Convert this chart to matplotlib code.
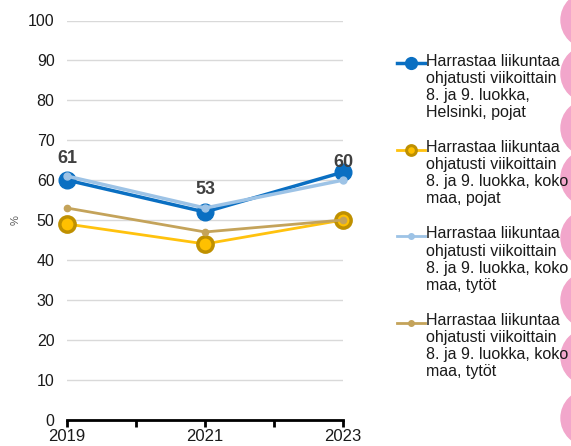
import matplotlib
matplotlib.use("Agg")
import matplotlib.pyplot as plt
from matplotlib.lines import Line2D
from matplotlib.patches import Circle

plt.rcParams['font.family'] = ['Liberation Sans', 'DejaVu Sans']

# --- Data ---
years = [2019, 2021, 2023]
helsinki_pojat = [60, 52, 62]
koko_maa_pojat = [49, 44, 50]
koko_maa_tytot = [61, 53, 60]
koko_maa_tytot_2 = [53, 47, 50]
data_labels = [61, 53, 60]

legend_labels = [
    "Harrastaa liikuntaa\nohjatusti viikoittain\n8. ja 9. luokka,\nHelsinki, pojat",
    "Harrastaa liikuntaa\nohjatusti viikoittain\n8. ja 9. luokka, koko\nmaa, pojat",
    "Harrastaa liikuntaa\nohjatusti viikoittain\n8. ja 9. luokka, koko\nmaa, tytöt",
    "Harrastaa liikuntaa\nohjatusti viikoittain\n8. ja 9. luokka, koko\nmaa, tytöt",
]

# --- Styles ---
W, H = 571, 446
styles = [
    dict(color="#0A6FC2", lw=2.5, marker="o", ms=12, mfc="#0A6FC2", mec="#0A6FC2", mew=1),
    dict(color="#FFC20E", lw=2.0, marker="o", ms=11, mfc="#FFC000", mec="#BF9000", mew=2.5),
    dict(color="#9DC3E6", lw=2.5, marker="o", ms=5, mfc="#9DC3E6", mec="#9DC3E6", mew=1),
    dict(color="#C4A35A", lw=2.0, marker="o", ms=4.5, mfc="#C4A35A", mec="#C4A35A", mew=1),
]
legend_ms = [8.5, 7, 4, 4]
legend_lw = [2.5, 2.0, 2.0, 2.0]

fig = plt.figure(figsize=(W / 100, H / 100), dpi=100)
ax = fig.add_axes([67 / W, 1 - 419.5 / H, (343 - 67) / W, 399 / H])

series = [helsinki_pojat, koko_maa_pojat, koko_maa_tytot, koko_maa_tytot_2]
for i, (vals, st) in enumerate(zip(series, styles)):
    ax.plot(years, vals, clip_on=False, zorder=3 + i, **st)

for x, y, lab in zip(years, koko_maa_tytot, data_labels):
    ax.annotate(str(lab), (x, y), xytext=(0, 13), textcoords="offset points",
                ha="center", va="center", fontsize=13, fontweight="bold",
                color="#404040", zorder=10, annotation_clip=False)

ax.set_xlim(2019, 2023)
ax.set_ylim(0, 100)
ax.set_yticks(range(0, 101, 10))
ax.set_xticks([2019, 2020, 2021, 2022, 2023])
ax.set_xticklabels(["2019", "", "2021", "", "2023"])
ax.grid(axis="y", color="#D9D9D9", lw=1)
ax.set_axisbelow(True)
for s in ["top", "right", "left"]:
    ax.spines[s].set_visible(False)
ax.spines["bottom"].set_linewidth(2)
ax.spines["bottom"].set_color("black")
ax.spines["bottom"].set_zorder(2)
ax.tick_params(axis="y", length=0, pad=9, labelsize=11.5, labelcolor="#1a1a1a")
ax.tick_params(axis="x", length=5, width=2, pad=2, labelsize=12, labelcolor="#1a1a1a")
ax.set_ylabel("%", fontsize=8, color="#595959", labelpad=5)

# legend drawn by hand so the handle sits on the first text line
entry_y = [63, 149.5, 236, 322.5]
for i, (lab, st) in enumerate(zip(legend_labels, styles)):
    yy = 1 - entry_y[i] / H
    st2 = dict(st)
    st2["ms"] = legend_ms[i]
    st2["lw"] = legend_lw[i]
    if i == 1:
        st2["mew"] = 2.2
    fig.add_artist(Line2D([397 / W, 425 / W], [yy, yy], transform=fig.transFigure,
                          color=st2["color"], lw=st2["lw"]))
    fig.add_artist(Line2D([411 / W], [yy], transform=fig.transFigure, linestyle="none",
                          **{k: v for k, v in st2.items() if k not in ("lw", "color")}))
    fig.text(426 / W, yy + 9.5 / H, lab, ha="left", va="top", fontsize=11.5,
             linespacing=1.18, color="#1a1a1a")

# pink decorative circles on the right edge
for cy in [20, 74, 128, 178, 238, 300, 357, 418]:
    fig.add_artist(Circle((589, H - cy), 28, transform=None, color="#F2A6CB", zorder=0))

fig.savefig("out.png", dpi=100)
